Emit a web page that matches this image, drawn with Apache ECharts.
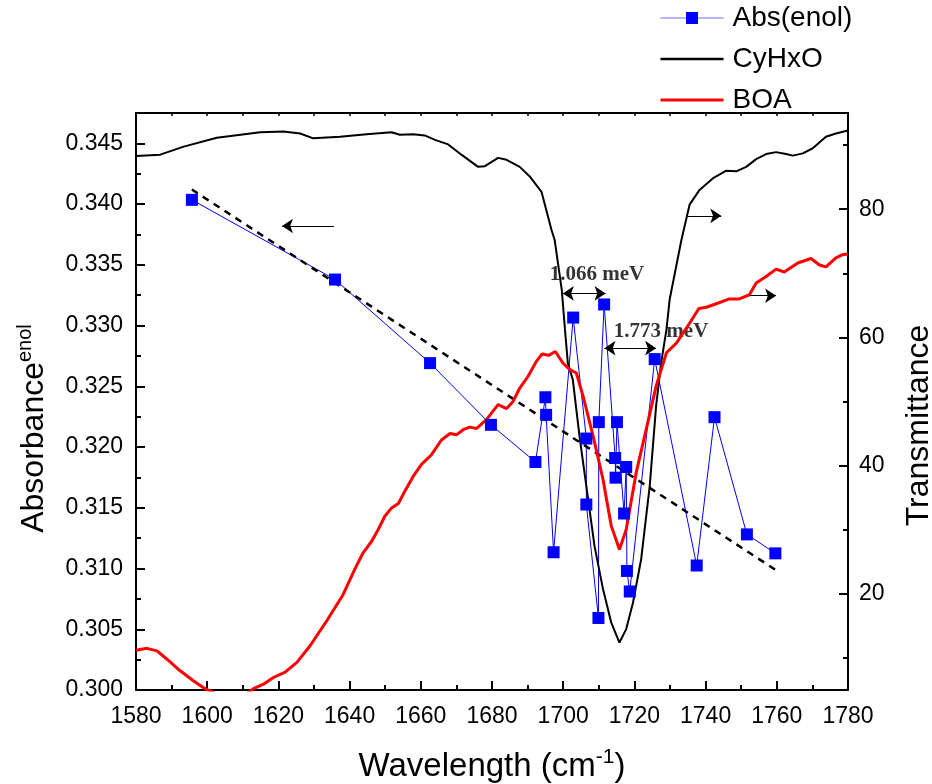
<!DOCTYPE html>
<html><head><meta charset="utf-8">
<script src="https://cdn.jsdelivr.net/npm/echarts@6/dist/echarts.min.js"></script>
<style>html,body{margin:0;padding:0;background:#fff}#c{width:932px;height:784px}</style>
</head><body><div id="c"></div>
<script>
// ---- tick values ----
const leftMajorTicks = [0.300,0.305,0.310,0.315,0.320,0.325,0.330,0.335,0.340,0.345];
const leftMinorTicks = [0.3025,0.3075,0.3125,0.3175,0.3225,0.3275,0.3325,0.3375,0.3425];
const rightMajorTicks = [20,40,60,80];
const rightMinorTicks = [10,30,50,70,90];

// ---- Abs(enol) (left axis) ----
const absX = [1595.7,1635.9,1662.6,1679.7,1692.2,1695.0,1695.2,1697.3,1702.8,1706.5,1706.5,1709.9,1710.0,1711.5,1714.6,1714.7,1715.1,1717.1,1717.7,1717.9,1718.7,1725.7,1737.5,1742.5,1751.6,1759.6];
const absY = [0.34035,0.33379,0.32691,0.32183,0.31877,0.3241,0.32265,0.31134,0.33066,0.3207,0.31527,0.30593,0.32205,0.33174,0.3191,0.31748,0.32205,0.31453,0.31836,0.3098,0.30811,0.32724,0.31025,0.32246,0.31281,0.31125];

// ---- linear fit (dashed) ----
const fitX = [1595.7,1759.6];
const fitY = [0.3412,0.3099];

// ---- CyHxO transmittance (right axis) ----
const cyX = [1580.0,1586.8,1593.4,1602.7,1614.9,1621.4,1626.1,1629.8,1637.3,1644.8,1651.8,1654.1,1657.9,1661.1,1664.0,1667.7,1671.4,1676.1,1678.0,1681.7,1684.1,1687.8,1690.6,1693.9,1696.7,1697.6,1699.6,1700.5,1701.3,1702.7,1704.6,1706.5,1708.8,1711.2,1713.5,1715.8,1717.7,1719.6,1721.9,1724.3,1726.1,1727.5,1729.0,1729.9,1733.2,1735.5,1738.3,1742.0,1745.8,1748.6,1751.4,1754.2,1757.0,1759.8,1762.6,1764.5,1767.3,1770.1,1773.8,1776.6,1779.4,1780.0];
const cyT = [88.3,88.5,89.75,91.15,92.0,92.1,91.8,91.05,91.3,91.7,92.0,91.6,91.7,91.5,90.8,90.1,88.5,86.6,86.7,88.0,87.7,86.6,85.1,82.7,76.8,75.2,67.4,61.2,56.0,53.4,44.5,36.8,27.45,20.7,15.5,12.4,14.5,18.6,25.4,36.8,49.3,56.0,61.2,65.9,75.2,80.7,83.0,84.8,86.0,85.9,86.6,87.8,88.6,88.9,88.6,88.35,88.7,89.5,91.3,91.8,92.2,92.3];

// ---- BOA transmittance (right axis) ----
const boaX = [1580.0,1583.1,1585.9,1588.7,1592.4,1596.2,1599.4,1603.0,1607.0,1611.0,1613.0,1615.8,1618.6,1621.9,1625.2,1628.9,1633.6,1638.2,1641.5,1643.8,1646.2,1648.0,1649.9,1651.8,1653.7,1655.5,1657.9,1660.2,1663.0,1665.8,1668.2,1670.0,1671.9,1673.8,1675.7,1678.5,1681.7,1684.1,1685.9,1687.8,1690.1,1692.5,1694.1,1695.9,1697.8,1699.9,1701.8,1703.7,1705.6,1708.4,1711.2,1713.5,1715.8,1717.7,1720.5,1723.3,1726.1,1729.0,1731.8,1735.5,1738.1,1740.2,1743.0,1746.7,1749.5,1752.3,1754.2,1757.0,1759.8,1762.1,1765.9,1769.6,1772.0,1773.8,1776.6,1778.5,1780.0];
const boaT = [11.2,11.5,11.1,9.8,8.0,6.4,5.2,4.3,3.9,4.4,5.2,5.9,6.95,7.8,9.3,11.9,15.8,19.9,23.9,26.4,28.2,30.0,32.1,33.4,34.1,36.0,38.35,40.2,41.7,44.0,45.0,44.8,45.6,46.0,45.8,47.2,49.5,48.9,50.0,52.1,53.9,56.3,57.4,57.2,57.8,56.0,55.0,54.45,50.8,44.6,37.8,30.6,26.9,30.05,38.9,45.6,52.4,57.6,59.1,62.2,64.5,64.7,65.25,66.0,66.0,66.65,68.5,69.5,70.65,70.2,71.6,72.3,71.3,71.0,72.4,72.9,73.0];

// ---- annotations ----
const annoText = ['1.066 meV','1.773 meV'];
const annoX = [1709.5,1727.5];
const annoY = [0.3342,0.32949];
// arrows on left axis: [x1,y1,x2,y2,doubleHeaded]
const leftArrows = [[1635.6,0.3382,1621.0,0.3382,false],[1699.9,0.33265,1711.9,0.33265,true],[1711.6,0.32814,1726.1,0.32814,true]];
// arrows on right axis
const rightArrows = [[1735.0,78.96,1744.4,78.96,false],[1752.3,66.5,1759.8,66.5,false]];

const zip = (a,b) => a.map((v,i)=>[v,b[i]]);
const FONT = 'Liberation Sans, Arial, sans-serif';
const NOSYM = 'path://M0,0L1,1';
const arrowData = arr => arr.map(a => [
  {coord:[a[0],a[1]], symbol: a[4] ? 'arrow' : 'none'},
  {coord:[a[2],a[3]], symbol:'arrow'}
]);
const markLineCfg = arr => ({
  silent:true, animation:false, symbolSize:11,
  lineStyle:{color:'#000',width:1,type:'solid'},
  label:{show:false}, emphasis:{disabled:true},
  data: arrowData(arr)
});

const chart = echarts.init(document.getElementById('c'));
const axisLineStyle = {show:true, lineStyle:{color:'#000', width:2}};
chart.setOption({
  animation:false,
  backgroundColor:'#fff',
  grid:{left:136, right:84, top:113, bottom:94, containLabel:false, outerBoundsMode:'none'},
  legend:{
    orient:'vertical', left:659, top:4, itemWidth:63, itemHeight:15, itemGap:13, padding:0,
    data:[
      {name:'Abs(enol)', lineStyle:{width:1, color:'#6a6aff'}},
      {name:'CyHxO', lineStyle:{width:2.5}},
      {name:'BOA', lineStyle:{width:3}}
    ],
    textStyle:{fontFamily:FONT, fontSize:28, color:'#000', padding:[0,0,0,4]}
  },
  xAxis:[{
    type:'value', min:1580, max:1780, interval:20, position:'bottom',
    axisLine:axisLineStyle,
    axisTick:{show:true, inside:true, length:9, lineStyle:{color:'#000', width:2}},
    minorTick:{show:true, splitNumber:2, length:5, lineStyle:{color:'#000', width:2}},
    axisLabel:{fontFamily:FONT, fontSize:23, color:'#000', margin:15, formatter:v=>String(v)},
    splitLine:{show:false},
    name:'{a|Wavelength (cm}{s|-1}{a|)}', nameLocation:'middle', nameGap:57,
    nameTextStyle:{rich:{a:{fontFamily:FONT, fontSize:33, color:'#000', lineHeight:40}, s:{fontFamily:FONT, fontSize:21, color:'#000', verticalAlign:'top', lineHeight:40}}}
  },{
    type:'value', min:1580, max:1780, interval:10, position:'top',
    axisLine:axisLineStyle,
    axisTick:{show:true, inside:true, length:3, lineStyle:{color:'#000', width:1.5}},
    axisLabel:{show:false}, splitLine:{show:false}
  }],
  yAxis:[{
    type:'value', min:0.3, max:0.3475, position:'left',
    axisLine:axisLineStyle,
    axisTick:{show:true, inside:true, length:9, customValues:leftMajorTicks, lineStyle:{color:'#000', width:2}},
    axisLabel:{customValues:leftMajorTicks, fontFamily:FONT, fontSize:23, color:'#000', margin:13, formatter:v=>v.toFixed(3)},
    splitLine:{show:false},
    name:'{a|Absorbance}{s|enol}', nameLocation:'middle', nameRotate:90, nameGap:83,
    nameTextStyle:{padding:[0,54,0,0], rich:{a:{fontFamily:FONT, fontSize:32, color:'#000', lineHeight:38}, s:{fontFamily:FONT, fontSize:20, color:'#000', verticalAlign:'top', lineHeight:38}}}
  },{
    type:'value', min:5, max:95, position:'right',
    axisLine:axisLineStyle,
    axisTick:{show:true, inside:true, length:9, customValues:rightMajorTicks, lineStyle:{color:'#000', width:2}},
    axisLabel:{customValues:rightMajorTicks, fontFamily:FONT, fontSize:23, color:'#000', margin:11},
    splitLine:{show:false},
    name:'Transmittance', nameLocation:'middle', nameRotate:90, nameGap:55,
    nameTextStyle:{fontFamily:FONT, fontSize:32, color:'#000', padding:[0,48,0,0]}
  },{
    type:'value', min:0.3, max:0.3475, position:'left',
    axisLine:{show:false},
    axisTick:{show:true, inside:true, length:5, customValues:leftMinorTicks, lineStyle:{color:'#000', width:2}},
    axisLabel:{show:false}, splitLine:{show:false}
  },{
    type:'value', min:5, max:95, position:'right',
    axisLine:{show:false},
    axisTick:{show:true, inside:true, length:5, customValues:rightMinorTicks, lineStyle:{color:'#000', width:2}},
    axisLabel:{show:false}, splitLine:{show:false}
  }],
  series:[{
    name:'Abs(enol)', type:'line', xAxisIndex:0, yAxisIndex:0,
    data:zip(absX,absY), symbol:'rect', symbolSize:12,
    lineStyle:{color:'#0000ff', width:1}, itemStyle:{color:'#0000ff'},
    emphasis:{disabled:true}
  },{
    name:'fit', type:'line', xAxisIndex:0, yAxisIndex:0,
    data:zip(fitX,fitY), symbol:'none',
    lineStyle:{color:'#000', width:2.5, type:[7,6]},
    emphasis:{disabled:true},
    markLine:markLineCfg(leftArrows)
  },{
    name:'CyHxO', type:'line', xAxisIndex:0, yAxisIndex:1,
    data:zip(cyX,cyT), symbol:NOSYM, showSymbol:false,
    lineStyle:{color:'#000', width:2}, itemStyle:{color:'#000'},
    emphasis:{disabled:true},
    markLine:markLineCfg(rightArrows)
  },{
    name:'BOA', type:'line', xAxisIndex:0, yAxisIndex:1,
    data:zip(boaX,boaT), symbol:NOSYM, showSymbol:false,
    lineStyle:{color:'#ff0000', width:3}, itemStyle:{color:'#ff0000'},
    emphasis:{disabled:true}
  },{
    name:'anno', type:'scatter', xAxisIndex:0, yAxisIndex:0,
    data:annoText.map((t,i)=>({name:t, value:[annoX[i],annoY[i]]})),
    symbolSize:0, silent:true,
    label:{show:true, position:'inside', formatter:'{b}', fontFamily:'Liberation Serif, Times New Roman, serif', fontWeight:'bold', fontSize:21, color:'#000'}
  }]
});
</script>
</body></html>
